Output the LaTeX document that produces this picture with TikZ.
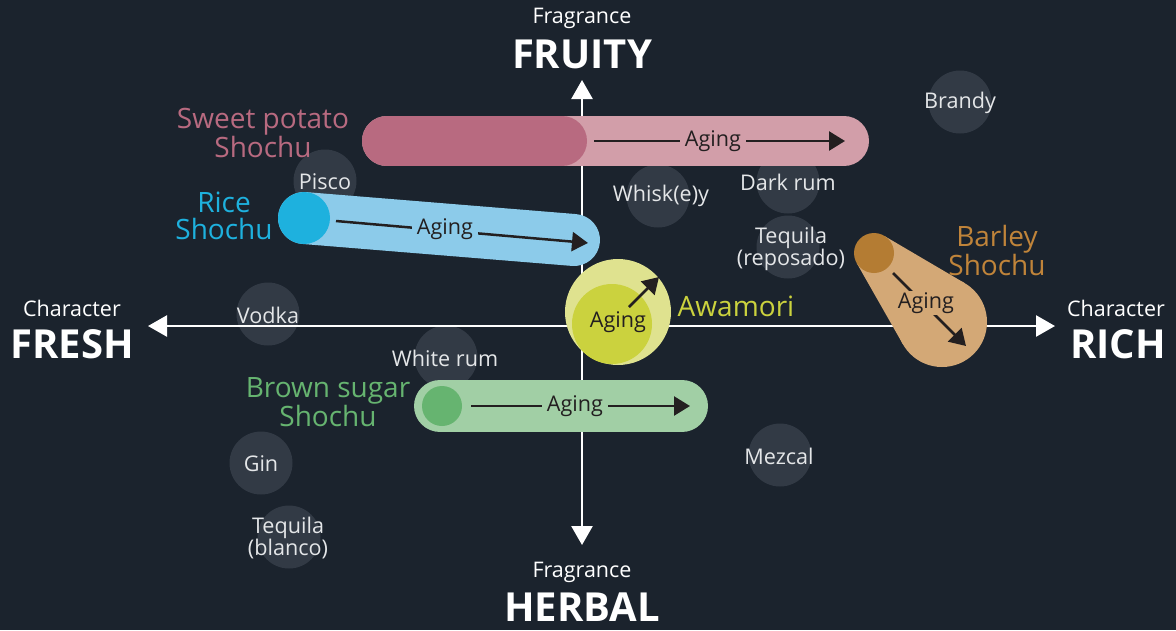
\documentclass[tikz,border=0pt]{standalone}
\usepackage{fontspec}
\setmainfont{Open Sans}
\usetikzlibrary{arrows.meta}
\definecolor{bg}{HTML}{1B232D}
\definecolor{gcol}{HTML}{323A45}
\definecolor{gtext}{HTML}{E4E6E8}
\definecolor{agingcol}{HTML}{231F20}
\definecolor{pinkd}{HTML}{B86A80}
\definecolor{pinkl}{HTML}{D29EA9}
\definecolor{blued}{HTML}{1EB1DE}
\definecolor{bluel}{HTML}{8CCBEA}
\definecolor{yell}{HTML}{DFE28F}
\definecolor{yeld}{HTML}{CBD23E}
\definecolor{barl}{HTML}{D3A876}
\definecolor{bard}{HTML}{B47C33}
\definecolor{barlab}{HTML}{C0843A}
\definecolor{grnl}{HTML}{A1CFA5}
\definecolor{grnd}{HTML}{66B470}
\begin{document}
\begin{tikzpicture}[x=1pt,y=-1pt,
 gcirc/.style={circle, fill=gcol, minimum size=63pt, inner sep=0pt},
 glabel/.style={text=gtext, font=\fontsize{21.6}{22.5}\selectfont, align=center, inner sep=0pt, yshift=-2pt},
 axis/.style={line width=2.5pt, white, {Triangle[length=19pt,width=21pt]}-{Triangle[length=19pt,width=21pt]}},
 axsmall/.style={text=white, font=\fontsize{21.5}{22}\selectfont, inner sep=0pt, yshift=-2.5pt},
 axbig/.style={text=white, font=\fontsize{40}{42}\selectfont\bfseries, inner sep=0pt, yshift=-2pt},
 aging/.style={line width=2.5pt, agingcol, -{Triangle[length=16pt,width=19pt]}},
 agetext/.style={text=agingcol, font=\fontsize{21.6}{22}\selectfont, inner xsep=5pt, inner ysep=1pt, yshift=-2pt},
 slabel/.style={font=\fontsize{28}{27}\selectfont, align=center, inner sep=0pt, yshift=-1.5pt},
 capsule/.style={line cap=round},
]
\fill[bg] (0,0) rectangle (1176,630);
\useasboundingbox (0,0) rectangle (1176,630);

% grey circles
\node[gcirc] (cBrandy) at (960,102) {};
\node[gcirc] (cPisco) at (325,181) {};
\node[gcirc] (cWhisky) at (658,196) {};
\node[gcirc] (cDarkrum) at (788,182) {};
\node[gcirc] (cTeqRep) at (788,247) {};
\node[gcirc] (cVodka) at (268,314) {};
\node[gcirc] (cWhiterum) at (446,357) {};
\node[gcirc] (cGin) at (261,463) {};
\node[gcirc] (cTeqBl) at (289,537) {};
\node[gcirc] (cMezcal) at (780,455) {};

% axes
\coordinate (O) at (582,326);
\coordinate (axTop) at (582,80);
\coordinate (axBottom) at (582,545);
\coordinate (axLeft) at (148,326);
\coordinate (axRight) at (1055,326);
\draw[axis] (axBottom) -- (axTop);
\draw[axis] (axLeft) -- (axRight);

% axis labels
\node[axsmall] (fragT) at (582,16) {Fragrance};
\node[axbig] (fruity) at (582,52) {FRUITY};
\node[axsmall] (fragB) at (582,570) {Fragrance};
\node[axbig] (herbal) at (582,605) {HERBAL};
\node[axsmall] (charL) at (72,306) {Character};
\node[axbig] (fresh) at (72,342) {FRESH};
\node[axsmall] (charR) at (1116,306) {Character};
\node[axbig] (rich) at (1118,342) {RICH};

% grey labels
\node[glabel] (tBrandy) at (960,101) {Brandy};
\node[glabel] (tPisco) at (325,180) {Pisco};
\node[glabel] (tWhisky) at (661,194) {Whisk(e)y};
\node[glabel] (tDarkrum) at (788,180) {Dark rum};
\node[glabel] (tTeqRep) at (791,247) {Tequila\\(reposado)};
\node[glabel] (tVodka) at (268,313) {Vodka};
\node[glabel] (tWhiterum) at (445,356) {White rum};
\node[glabel] (tGin) at (261,462) {Gin};
\node[glabel] (tTeqBl) at (288,536) {Tequila\\(blanco)};
\node[glabel] (tMezcal) at (779,454) {Mezcal};

% Sweet potato shochu
\coordinate (spA) at (387,141);
\coordinate (spB) at (844,141);
\coordinate (spC) at (562,141);
\draw[capsule, pinkl, line width=50pt] (spA) -- (spB);
\draw[capsule, pinkd, line width=50pt] (spA) -- (spC);
\coordinate (spS) at (594,141);
\coordinate (spE) at (845,141);
\draw[aging] (spS) -- (spE);
\node[agetext, fill=pinkl] (spAge) at (713,139) {Aging};
\node[slabel, text=pinkd] (spLab) at (263,131) {Sweet potato\\Shochu};

% Rice shochu
\coordinate (rcA) at (304,218);
\coordinate (rcB) at (574,240);
\draw[capsule, bluel, line width=52pt] (rcA) -- (rcB);
\node[circle, fill=blued, minimum size=52pt, inner sep=0pt] (rcDot) at (rcA) {};
\coordinate (rcS) at (336,221);
\coordinate (rcE) at (588,243);
\draw[aging] (rcS) -- (rcE);
\node[agetext, fill=bluel] (rcAge) at (445,227) {Aging};
\node[slabel, text=blued] (rcLab) at (224,214) {Rice\\Shochu};

% Awamori
\node[circle, fill=yell, minimum size=106pt, inner sep=0pt] (awOut) at (618,312) {};
\node[circle, fill=yeld, minimum size=80pt, inner sep=0pt] (awIn) at (612,324) {};
\coordinate (awS) at (629,307);
\coordinate (awE) at (659,277);
\draw[aging] (awS) -- (awE);
\node[agetext] (awAge) at (618,320) {Aging};
\node[slabel, text=yeld] (awLab) at (736,305) {Awamori};

% Barley shochu
\coordinate (bC1) at (874,253);
\coordinate (bC2) at (942,322);
\fill[barl] (856.6,262.9) -- (902.9,344.2) -- (964.8,283.2) -- (884.1,235.8) -- cycle;
\fill[barl] (bC2) circle[radius=45pt];
\node[circle, fill=bard, minimum size=40pt, inner sep=0pt] (bDot) at (bC1) {};
\coordinate (bS) at (893,273);
\coordinate (bE) at (966,346);
\draw[aging] (bS) -- (bE);
\node[agetext, fill=barl, inner xsep=3pt] (bAge) at (926,301) {Aging};
\node[slabel, text=barlab] (bLab) at (997,249) {Barley\\Shochu};

% Brown sugar shochu
\coordinate (gsA) at (440,406);
\coordinate (gsB) at (682,406);
\draw[capsule, grnl, line width=52pt] (gsA) -- (gsB);
\node[circle, fill=grnd, minimum size=40pt, inner sep=0pt] (gsDot) at (442,406) {};
\coordinate (gsS) at (471,406);
\coordinate (gsE) at (690,406);
\draw[aging] (gsS) -- (gsE);
\node[agetext, fill=grnl] (gsAge) at (575,404) {Aging};
\node[slabel, text=grnd] (gsLab) at (328,401) {Brown sugar\\Shochu};
\end{tikzpicture}
\end{document}
